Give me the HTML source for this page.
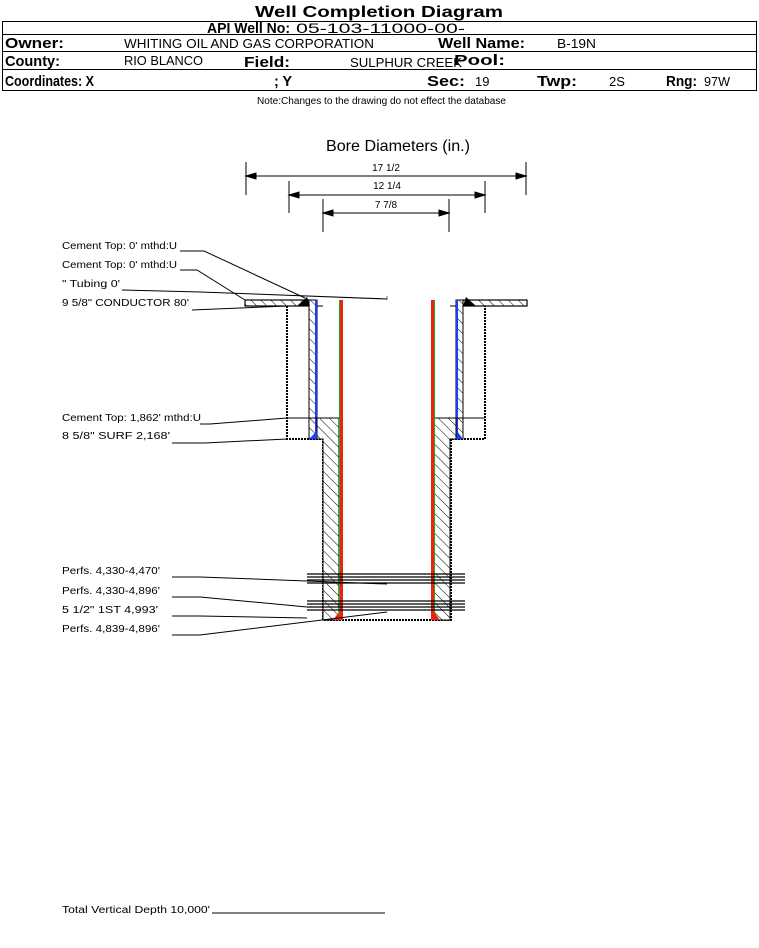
<!DOCTYPE html>
<html><head><style>
body{margin:0;background:#fff;}
svg text{font-family:"Liberation Sans",Arial,sans-serif;}
</style></head><body>
<svg width="759" height="943" viewBox="0 0 759 943" xmlns="http://www.w3.org/2000/svg">
<defs>
<pattern id="h" width="7" height="7" patternUnits="userSpaceOnUse" patternTransform="rotate(-45)">
<rect width="7" height="7" fill="#fff"/><line x1="0" y1="0" x2="0" y2="7" stroke="#000" stroke-width="1"/>
</pattern>
</defs>
<text x="255" y="17" font-size="16" font-weight="bold" textLength="248" lengthAdjust="spacingAndGlyphs">Well Completion Diagram</text>
<rect x="2.5" y="21.5" width="754" height="69" fill="none" stroke="#000" stroke-width="1"/>
<line x1="2" y1="34.5" x2="757" y2="34.5" stroke="#000"/>
<line x1="2" y1="51.5" x2="757" y2="51.5" stroke="#000"/>
<line x1="2" y1="69.5" x2="757" y2="69.5" stroke="#000"/>
<g font-size="15" font-weight="bold" lengthAdjust="spacingAndGlyphs">
<text x="207" y="33" textLength="83" lengthAdjust="spacingAndGlyphs">API Well No:</text>
<text x="5" y="48" textLength="59" lengthAdjust="spacingAndGlyphs">Owner:</text>
<text x="438" y="48" textLength="87" lengthAdjust="spacingAndGlyphs">Well Name:</text>
<text x="5" y="66" textLength="55" lengthAdjust="spacingAndGlyphs">County:</text>
<text x="244" y="67" textLength="46" lengthAdjust="spacingAndGlyphs">Field:</text>
<text x="454" y="65" textLength="51" lengthAdjust="spacingAndGlyphs">Pool:</text>
<text x="5" y="86" textLength="89" lengthAdjust="spacingAndGlyphs">Coordinates: X</text>
<text x="274" y="86" textLength="18" lengthAdjust="spacingAndGlyphs">; Y</text>
<text x="427" y="86" textLength="38" lengthAdjust="spacingAndGlyphs">Sec:</text>
<text x="537" y="86" textLength="40" lengthAdjust="spacingAndGlyphs">Twp:</text>
<text x="666" y="86" textLength="31" lengthAdjust="spacingAndGlyphs">Rng:</text>
</g>
<text x="296" y="33" font-size="14" textLength="169" lengthAdjust="spacingAndGlyphs">05-103-11000-00-</text>
<g font-size="13">
<text x="124" y="48" textLength="250" lengthAdjust="spacingAndGlyphs">WHITING OIL AND GAS CORPORATION</text>
<text x="557" y="48" textLength="39" lengthAdjust="spacingAndGlyphs">B-19N</text>
<text x="124" y="65" textLength="79" lengthAdjust="spacingAndGlyphs">RIO BLANCO</text>
<text x="350" y="67" textLength="112" lengthAdjust="spacingAndGlyphs">SULPHUR CREEK</text>
<text x="475" y="86">19</text>
<text x="609" y="86">2S</text>
<text x="704" y="86" textLength="26" lengthAdjust="spacingAndGlyphs">97W</text>
</g>
<text x="257" y="104" font-size="10" textLength="249" lengthAdjust="spacingAndGlyphs">Note:Changes to the drawing do not effect the database</text>

<text x="326" y="151" font-size="16" textLength="144" lengthAdjust="spacingAndGlyphs">Bore Diameters (in.)</text>
<g stroke="#000" stroke-width="1" fill="#000">
<line x1="246" y1="176" x2="526" y2="176"/><line x1="246" y1="162" x2="246" y2="195"/><line x1="526" y1="162" x2="526" y2="195"/>
<polygon points="246,176 256,173 256,179"/><polygon points="526,176 516,173 516,179"/>
<line x1="289" y1="195" x2="485" y2="195"/><line x1="289" y1="181" x2="289" y2="213"/><line x1="485" y1="181" x2="485" y2="213"/>
<polygon points="289,195 299,192 299,198"/><polygon points="485,195 475,192 475,198"/>
<line x1="323" y1="213" x2="449" y2="213"/><line x1="323" y1="199" x2="323" y2="232"/><line x1="449" y1="199" x2="449" y2="232"/>
<polygon points="323,213 333,210 333,216"/><polygon points="449,213 439,210 439,216"/>
</g>
<g font-size="10" text-anchor="middle">
<text x="386" y="171">17 1/2</text><text x="387" y="189">12 1/4</text><text x="386" y="208">7 7/8</text>
</g>

<rect x="245" y="300" width="65" height="6" fill="url(#h)" stroke="#000" stroke-width="1.2"/>
<rect x="463" y="300" width="64" height="6" fill="url(#h)" stroke="#000" stroke-width="1.2"/>
<path d="M287 306 V439 H323 V620 H451 V439 H485 V306" fill="none" stroke="#000" stroke-width="2" stroke-dasharray="2,1"/>
<line x1="287" y1="306" x2="323" y2="306" stroke="#000"/>
<line x1="450" y1="306" x2="485" y2="306" stroke="#000"/>
<rect x="309" y="300" width="8" height="139" fill="url(#h)" stroke="#000"/>
<rect x="456" y="300" width="7" height="139" fill="url(#h)" stroke="#000"/>
<line x1="316" y1="300" x2="316" y2="439" stroke="#1a3cff" stroke-width="2"/>
<line x1="457" y1="300" x2="457" y2="439" stroke="#1a3cff" stroke-width="2"/>
<path d="M317 418 H339 V620 H323 V439 H317 Z" fill="url(#h)" stroke="#000"/>
<path d="M434 418 H456 V439 H450 V620 H434 Z" fill="url(#h)" stroke="#000"/>
<line x1="287" y1="418" x2="317" y2="418" stroke="#000"/>
<line x1="456" y1="418" x2="485" y2="418" stroke="#000"/>
<polygon points="309,439 317,431 317,439" fill="#1a3cff"/>
<polygon points="463,439 457,431 457,439" fill="#1a3cff"/>
<polygon points="297,306 307,297 310,306" fill="#000"/>
<polygon points="463,306 466,297 476,306" fill="#000"/>
<line x1="339.5" y1="300" x2="339.5" y2="620" stroke="#2a2" stroke-width="1"/>
<rect x="340" y="300" width="3" height="320" fill="#e21"/>
<line x1="434.5" y1="300" x2="434.5" y2="620" stroke="#2a2" stroke-width="1"/>
<rect x="431" y="300" width="3" height="320" fill="#e21"/>
<polygon points="333,620 339,612 340,620" fill="#e21"/>
<polygon points="434,620 434,612 440,620" fill="#e21"/>
<line x1="387" y1="296" x2="387" y2="300" stroke="#2a2"/>
<g stroke="#000" stroke-width="1.3">
<line x1="307" y1="574" x2="465" y2="574"/><line x1="307" y1="577" x2="465" y2="577"/><line x1="307" y1="580" x2="465" y2="580"/><line x1="307" y1="583" x2="465" y2="583"/>
<line x1="307" y1="601" x2="465" y2="601"/><line x1="307" y1="604" x2="465" y2="604"/><line x1="307" y1="607" x2="465" y2="607"/><line x1="307" y1="610" x2="465" y2="610"/>
</g>
<g font-size="10">
<text x="62" y="249" textLength="115" lengthAdjust="spacingAndGlyphs">Cement Top: 0' mthd:U</text>
<text x="62" y="268" textLength="115" lengthAdjust="spacingAndGlyphs">Cement Top: 0' mthd:U</text>
<text x="62" y="287" textLength="58" lengthAdjust="spacingAndGlyphs">" Tubing 0'</text>
<text x="62" y="306" textLength="127" lengthAdjust="spacingAndGlyphs">9 5/8" CONDUCTOR  80'</text>
<text x="62" y="421" textLength="139" lengthAdjust="spacingAndGlyphs">Cement Top: 1,862' mthd:U</text>
<text x="62" y="439" textLength="108" lengthAdjust="spacingAndGlyphs">8 5/8" SURF     2,168'</text>
<text x="62" y="574" textLength="98" lengthAdjust="spacingAndGlyphs">Perfs. 4,330-4,470'</text>
<text x="62" y="594" textLength="98" lengthAdjust="spacingAndGlyphs">Perfs. 4,330-4,896'</text>
<text x="62" y="613" textLength="96" lengthAdjust="spacingAndGlyphs">5 1/2" 1ST      4,993'</text>
<text x="62" y="632" textLength="98" lengthAdjust="spacingAndGlyphs">Perfs. 4,839-4,896'</text>
<text x="62" y="913" textLength="148" lengthAdjust="spacingAndGlyphs">Total Vertical Depth 10,000'</text>
</g>
<g stroke="#000" stroke-width="1" fill="none">
<polyline points="180,251 204,251 305,298"/>
<polyline points="180,270 197,270 245,300"/>
<polyline points="122,290 200,292 387,299"/>
<polyline points="192,310 287,306"/>
<polyline points="200,424 210,424 287,418"/>
<polyline points="172,443 205,443 287,439"/>
<polyline points="172,577 200,577 387,584"/>
<polyline points="172,597 200,597 307,607"/>
<polyline points="172,616 200,616 307,618"/>
<polyline points="172,635 200,635 387,612"/>
<line x1="212" y1="913" x2="385" y2="913"/>
</g>
</svg>
</body></html>
